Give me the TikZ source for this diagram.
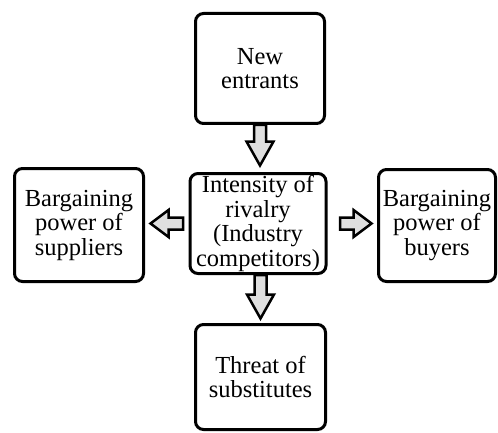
\documentclass[tikz,border=0pt]{standalone}
\usepackage{fontspec}
\setmainfont{Liberation Serif}
\usetikzlibrary{calc}

\tikzstyle{force} = [draw,line width=3pt,rounded corners=8pt,align=center,inner sep=0pt,font=\fontsize{24.5}{24.5}\selectfont]
\tikzset{fatarrow/.style={draw,fill=gray!25,line width=2.5pt,line join=miter,
	to path={let \p1=(\tikztostart), \p2=(\tikztotarget),
		\n1={atan2(\y2-\y1,\x2-\x1)}, \n2={veclen(\x2-\x1,\y2-\y1)} in
		[shift={(\p1)},rotate=\n1] (0,-6) -- (\n2-#1,-6) -- (\n2-#1,-13.5) -- (\n2,0)
		-- (\n2-#1,13.5) -- (\n2-#1,6) -- (0,6) -- cycle}},
	fatarrow/.default=24}

\begin{document}
\begin{tikzpicture}[x=1pt,y=1pt]
	\useasboundingbox (0,0) rectangle (498,432);
	\node[force,minimum width=129,minimum height=110] (new) at (260,363.5) {New\\entrants};
	\node[force,minimum width=136,minimum height=100] (rivalry) at (258,208.5) {Intensity of\\rivalry\\(Industry\\competitors)};
	\node[force,minimum width=129,minimum height=113] (suppliers) at (79,207) {Bargaining\\power of\\suppliers};
	\node[force,minimum width=117,minimum height=112] (buyers) at (437,206.5) {Bargaining\\power of\\buyers};
	\node[force,minimum width=130,minimum height=105] (subs) at (260.5,55) {Threat of\\substitutes};
	
	\draw[fatarrow] (new.south) to ($(new.south |- rivalry.north)+(0,6.5)$);
	\draw[fatarrow=18] ($(rivalry.west)+(-5.5,0)$) to ($(suppliers.east |- rivalry.west)+(5.5,0)$);
	\draw[fatarrow=18] ($(rivalry.east)+(12.5,0)$) to ($(buyers.west |- rivalry.east)+(-5.5,0)$);
	\draw[fatarrow] (subs.north |- rivalry.south) to ($(subs.north)+(0,4.5)$);
\end{tikzpicture}
\end{document}
